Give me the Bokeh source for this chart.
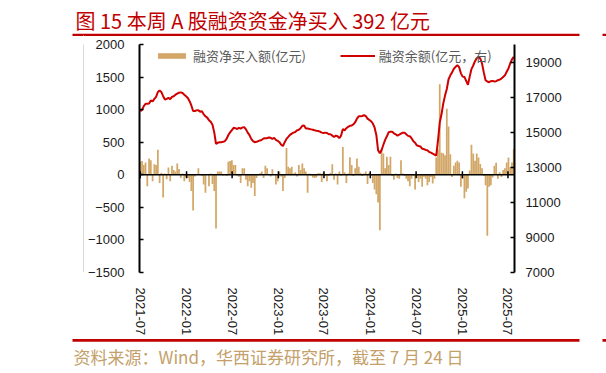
import math
import pandas as pd
from bokeh.plotting import figure
from bokeh.layouts import column, row
from bokeh.models import (Range1d, LinearAxis, FixedTicker, Span, Label,
                          BoxAnnotation, Legend, LegendItem, ColumnDataSource)
from bokeh.embed import file_html
from bokeh.resources import INLINE

# ---------------- data ----------------
end_date = "2025-07-24"

# weekly net financing purchases (亿元)
net_buy = [
    200, 210, 150, 190, -175, 250, 225, -100, 160, 150,
    385, -125, 30, -350, 20, -70, 110, -100, 140, 75,
    50, 175, 90, -50, 20, -100, -30, -50, -110, -250,
    -550, -25, 10, 100, 10, -20, -150, -275, 10, -175,
    20, -140, -250, -825, 50, 50, 50, -10, 10, -20,
    200, 210, 225,
    150, 150, -10, -30, -125, 100, 100, -75, -175, -100,
    -200, -125, -325, -50, -10, 25, 50, -50, 140, 100,
    10, -25, 85, 10, -150, -100, 50, -25, -250, -50,
    410, 125, 100, 125, 20, 40, -25, 150, 75, 175,
    100, 50, -275, 20, -10, -40, -50, -40, 25, 25,
    -110, 40,
    -20, -100, -20, 30, 160, -75, 20, -150, 50, -10,
    425, 40, -125, 20, 270, 150, -20, 100, 250, 125,
    30, -20, 20, 50, -140, 30, -10, -125, -225, -300,
    -425, -850, 390, 325, 100, 275, 150, 275, -20, -75,
    20, -50, -60, 225, 20, -20, -60, -100, -175, -60,
    -20, -225, -50,
    -110, -60, -185, -30, -60, -160, -110, -35, -135, -60,
    265, 390, 1390, 340, 330, 300, 1015, 740, 315, -35,
    140, 190, 215, 190, -185, -60, -360, -260, -210, 65,
    460, 325, 215, 325, 265, 165, 100, -20, -160, -935,
    -185, -160, -40, 140, 185, -60, 40, -35, 75, 100,
    190, 265, 115, 190, 392,
]

# weekly financing balance (亿元, right axis)
balance = [
    16207, 16260, 16490, 16620, 16620, 16640, 16810, 16750, 16900, 17010,
    17290, 17370, 17290, 17050, 16860, 16900, 16955, 16880, 17010, 17050,
    17140, 17200, 17250, 17270, 17235, 17140, 17050, 16955, 16770, 16525,
    16207, 16207, 16245, 16245, 16170, 16190, 16020, 15910, 15833, 15685,
    15590, 15420, 14990, 14340, 14395, 14430, 14430, 14450, 14490, 14620,
    14840, 14990, 15120,
    15250, 15230, 15180, 15250, 15200, 15270, 15290, 15160, 14975, 14830,
    14620, 14490, 14430, 14450, 14490, 14530, 14565, 14640, 14660, 14660,
    14695, 14680, 14620, 14676, 14565, 14510, 14430, 14285, 14210, 14430,
    14620, 14730, 14845, 14920, 14975, 15010, 15105, 15140, 15230, 15366,
    15385, 15215, 15215, 15180, 15160, 15140, 15105, 15086, 15070, 15030,
    14975, 14956,
    14975, 14956, 14880, 14880, 14805, 14730, 14805, 14770, 14657, 14805,
    15180, 15105, 15230, 15310, 15366, 15385, 15440, 15570, 15776, 15907,
    15907, 15925, 15963, 15925, 15776, 15700, 15627, 15496, 15273, 14845,
    13967, 13799, 13986, 14285, 14565, 14770, 14994, 15030, 15030, 14937,
    14880, 14805, 14860, 14920, 14975, 14975, 14880, 14790, 14770, 14657,
    14490, 14395, 14250,
    14210, 14190, 14060, 14040, 13985, 13966, 13875, 13837, 13780, 13724,
    13668, 14527, 15553, 16020, 16640, 17086, 17460, 18019, 18243, 18410,
    18616, 18729, 18822, 18710, 18355, 18168, 18150, 17925, 17700, 18168,
    18598, 18803, 19046, 19215, 19289, 19196, 18916, 18410, 17963, 17888,
    17850, 17907, 17925, 17888, 17907, 17963, 18000, 18056, 18150, 18243,
    18449, 18635, 18916, 19150, 19300,
]

x_tick_labels = ["2021-07", "2022-01", "2022-07", "2023-01", "2023-07",
                 "2024-01", "2024-07", "2025-01", "2025-07"]
left_ticks = [-1500, -1000, -500, 0, 500, 1000, 1500, 2000]
right_ticks = [7000, 9000, 11000, 13000, 15000, 17000, 19000]

title_text = "图 15 本周 A 股融资资金净买入 392 亿元"
source_text = "资料来源：Wind，华西证券研究所，截至 7 月 24 日"
legend_bar = "融资净买入额(亿元)"
legend_line = "融资余额(亿元，右)"

# ---------------- styles ----------------
RED = "#c00000"
LINE_RED = "#d00000"
BAR = "#d2a768"
GRAY = "#d9d9d9"
SRC_COLOR = "#c4a06a"
FONT_CJK = "Noto Sans CJK SC"
FONT_NUM = "Liberation Sans"

W = 606
H_HEAD, H_MID, H_FOOT = 36, 302, 35
STRIP_W = 84


def blank(width, height):
    f = figure(width=width, height=height, output_backend="svg",
               toolbar_location=None, x_axis_location=None,
               y_axis_location=None, min_border=0,
               x_range=Range1d(0, 1), y_range=Range1d(0, 1))
    f.outline_line_color = None
    f.grid.visible = False
    f.background_fill_color = "white"
    f.border_fill_color = "white"
    return f


def rule(left, right, top, bottom, color):
    return BoxAnnotation(left=left, right=right, top=top, bottom=bottom,
                         left_units="screen", right_units="screen",
                         top_units="screen", bottom_units="screen",
                         fill_color=color, fill_alpha=1, line_color=None)


# ---------------- header ----------------
head = blank(W, H_HEAD)
head.add_layout(Label(x=75, y=H_HEAD - 19.5, x_units="screen", y_units="screen",
                      text=title_text, text_font=FONT_CJK, text_font_size="20px",
                      text_color=RED, text_baseline="middle"))
head.add_layout(rule(72, 579, 2.7, 0, RED))
head.add_layout(rule(602, 606, 2.7, 0, RED))
head.add_layout(rule(82.5, 83.5, 1, 0, GRAY))

# ---------------- left strip (gray border line) ----------------
strip = blank(STRIP_W, H_MID)
strip.add_layout(rule(82.5, 83.5, H_MID, 0, GRAY))

# ---------------- main chart ----------------
dates = pd.date_range(end=end_date, periods=len(net_buy), freq="7D")
src = ColumnDataSource(dict(date=dates, net=net_buy, bal=balance))

p = figure(width=W - STRIP_W, height=H_MID, x_axis_type="datetime",
           x_range=Range1d(pd.Timestamp("2021-06-28"), pd.Timestamp("2025-07-27")),
           y_range=Range1d(-1500, 2000),
           output_backend="svg", toolbar_location=None,
           min_border_left=138 - STRIP_W, min_border_right=W - 514,
           min_border_top=44 - H_HEAD, min_border_bottom=H_HEAD + H_MID - 276)
p.outline_line_color = None
p.xgrid.visible = False
p.ygrid.visible = False
p.background_fill_color = "white"
p.border_fill_color = "white"

p.extra_y_ranges = {"right": Range1d(7000, 20000)}

bars = p.vbar(x="date", top="net", width=7 * 86400000, source=src,
              fill_color=BAR, line_color=None)
line = p.line(x="date", y="bal", source=src, y_range_name="right",
              line_color=LINE_RED, line_width=2)

p.add_layout(Span(location=0, dimension="width", line_color="black",
                  line_width=1.5))

tick_ms = [pd.Timestamp(t + "-01").value / 1e6 for t in x_tick_labels]
p.scatter(x=tick_ms, y=[0] * len(tick_ms), marker="dash", angle=math.pi / 2,
          size=7, line_color="black", line_width=1.5)

# x axis (labels only)
xa = p.xaxis[0]
xa.ticker = FixedTicker(ticks=tick_ms)
xa.major_label_overrides = {t: lab for t, lab in zip(tick_ms, x_tick_labels)}
xa.major_label_orientation = "vertical"
xa.axis_line_color = None
xa.major_tick_line_color = None
xa.minor_tick_line_color = None
xa.major_label_standoff = 9
xa.major_label_text_font = FONT_NUM
xa.major_label_text_font_size = "13px"
xa.major_label_text_color = "#1a1a1a"

# left axis
ya = p.yaxis[0]
ya.ticker = FixedTicker(ticks=left_ticks)
ya.major_label_overrides = {t: ("−" + str(-t) if t < 0 else str(t)) for t in left_ticks}
ya.axis_line_width = 2
ya.axis_line_color = "black"
ya.major_tick_in = 4
ya.major_tick_out = 0
ya.major_tick_line_width = 1.5
ya.minor_tick_line_color = None
ya.major_label_standoff = 15
ya.major_label_text_font = FONT_NUM
ya.major_label_text_font_size = "13px"
ya.major_label_text_color = "#1a1a1a"

# right axis
ra = LinearAxis(y_range_name="right", ticker=FixedTicker(ticks=right_ticks))
ra.axis_line_width = 2
ra.axis_line_color = "black"
ra.major_tick_in = 4
ra.major_tick_out = 0
ra.major_tick_line_width = 1.5
ra.minor_tick_line_color = None
ra.major_label_standoff = 11
ra.major_label_text_font = FONT_NUM
ra.major_label_text_font_size = "13px"
ra.major_label_text_color = "#1a1a1a"
p.add_layout(ra, "right")

# legend
legend = Legend(items=[LegendItem(label=legend_bar, renderers=[bars]),
                       LegendItem(label=legend_line, renderers=[line])],
                orientation="horizontal", location=(15, 207),
                spacing=34, glyph_width=35, glyph_height=7,
                label_standoff=4, label_height=18,
                label_text_font=FONT_CJK, label_text_font_size="13px",
                label_text_color="#595959", border_line_color=None,
                background_fill_alpha=0, padding=0, margin=0)
p.add_layout(legend)

# ---------------- footer ----------------
foot = blank(W, H_FOOT)
foot.add_layout(rule(72, 579, H_FOOT - 0.5, H_FOOT - 3.3, RED))
foot.add_layout(rule(602, 606, H_FOOT - 0.5, H_FOOT - 3.3, RED))
foot.add_layout(Label(x=73, y=H_FOOT - 17.5, x_units="screen", y_units="screen",
                      text=source_text, text_font=FONT_CJK, text_font_size="17px",
                      text_color=SRC_COLOR, text_baseline="middle"))

layout = column(head, row(strip, p), foot)

open("out.html", "w").write(file_html(layout, INLINE))
